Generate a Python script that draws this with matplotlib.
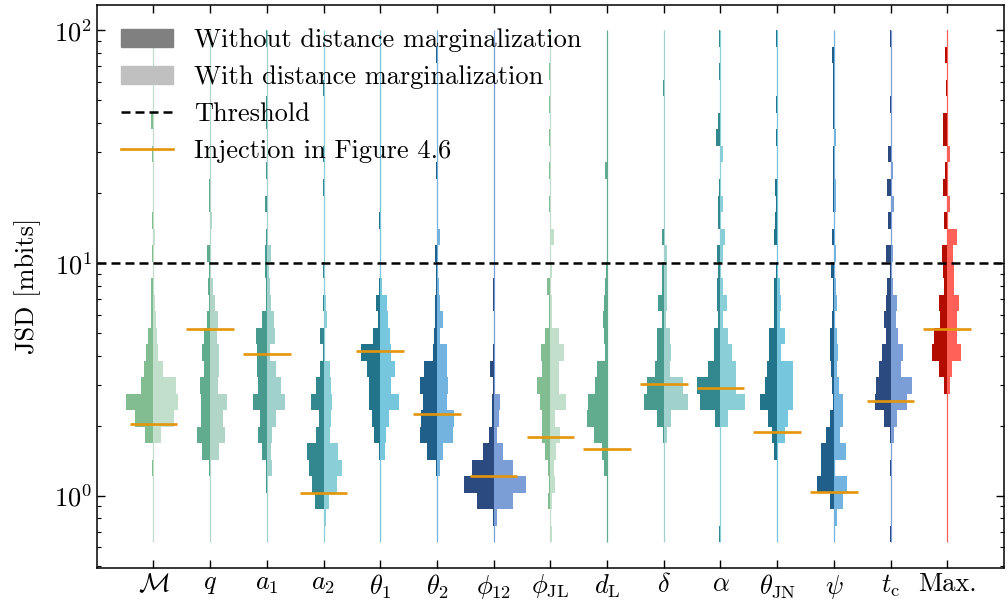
import numpy as np
import matplotlib
matplotlib.use("Agg")
import matplotlib.pyplot as plt
from matplotlib.patches import Patch
from matplotlib.lines import Line2D

plt.rcParams.update({
    "font.family": "serif",
    "font.serif": ["cmr10", "DejaVu Serif"],
    "mathtext.fontset": "cm",
    "axes.formatter.use_mathtext": True,
    "font.size": 19,
    "axes.linewidth": 1.1,
    "xtick.direction": "in",
    "ytick.direction": "in",
    "xtick.top": True,
    "ytick.right": True,
    "xtick.major.size": 5.5,
    "ytick.major.size": 5.5,
    "ytick.minor.size": 3.0,
    "xtick.major.width": 1.0,
    "ytick.major.width": 1.0,
    "ytick.minor.width": 0.8,
})

labels = [r"$\mathcal{M}$", r"$q$", r"$a_1$", r"$a_2$", r"$\theta_1$", r"$\theta_2$",
          r"$\phi_{12}$", r"$\phi_{\rm JL}$", r"$d_{\rm L}$", r"$\delta$", r"$\alpha$",
          r"$\theta_{\rm JN}$", r"$\psi$", r"$t_{\rm c}$", "Max."]

# log-spaced JSD bins (mbits), 31 bins from ~0.63 to 100
bins = np.logspace(-0.2, 2.0, 32)

# injection counts per bin, lowest bin first
mc_without    = [0,0,0,0,1,0,8,17,26,12, 9,7,5,2,2,2,0,1,0,1, 0,0,0,1,0,2,0,0,0,0,0]
mc_with       = [0,0,0,0,0,0,7,19,23,21, 9,4,3,2,1,0,0,0,1,0, 0,0,0,0,0,0,0,0,0,0,0]
q_without     = [0,0,0,0,1,8,12,9,9,10, 6,8,6,3,1,2,1,3,0,0, 1,1,0,0,0,0,0,0,0,0,0]
q_with        = [0,0,0,0,0,8,14,12,16,7, 8,8,6,7,5,3,0,0,1,2, 0,0,0,0,0,0,0,0,0,0,0]
a1_without    = [0,0,0,1,1,5,8,6,13,8, 9,9,10,5,1,1,2,2,1,0, 2,0,1,0,0,1,1,0,0,0,1]
a1_with       = [0,0,0,0,5,4,5,9,17,13, 9,3,8,7,4,3,2,4,1,0, 0,0,0,0,0,0,0,0,0,0,0]
a2_without    = [0,0,8,11,14,16,7,4,12,7, 3,1,3,0,1,0,1,0,0,0, 0,1,0,1,0,0,0,1,0,0,0]
a2_with       = [0,2,5,13,17,14,6,7,8,7, 6,0,0,3,2,0,0,0,0,0, 0,0,0,0,0,0,0,0,0,0,0]
th1_without   = [0,0,0,0,0,1,6,8,11,11, 12,18,7,2,4,1,0,0,0,1, 0,0,0,0,0,0,0,0,0,0,0]
th1_with      = [0,0,0,0,0,4,5,8,18,10, 14,10,9,7,6,2,0,0,0,0, 0,0,0,0,0,0,0,0,0,0,0]
th2_without   = [0,0,0,0,1,9,16,15,13,16, 12,4,3,2,2,1,1,2,0,0, 0,0,1,0,0,0,0,0,0,1,0]
th2_with      = [0,0,0,0,3,6,15,16,9,10, 9,9,3,6,3,2,1,0,3,0, 0,0,0,0,0,0,0,0,0,0,0]
phi12_without = [0,1,16,28,20,10,4,2,2,1, 3,1,0,0,1,1,0,0,0,0, 0,0,0,0,0,0,0,0,0,0,0]
phi12_with    = [0,3,18,30,18,9,3,5,6,0, 0,0,0,0,0,0,0,0,0,0, 0,0,0,0,0,0,0,0,0,0,0]
phijl_without = [0,0,2,1,2,5,8,8,10,13, 8,9,5,1,1,3,0,0,0,0, 1,0,1,0,1,0,1,0,1,0,1]
phijl_with    = [2,0,2,4,3,5,9,4,15,8, 8,13,8,2,2,0,2,0,3,0, 0,0,0,0,0,0,0,0,0,0,0]
dl_without    = [0,0,0,0,3,5,12,19,18,11, 9,2,3,4,3,2,1,0,0,0, 0,0,2,0,0,0,0,0,0,0,0]
dl_with       = [0]*31
delta_without = [0,0,0,0,0,0,1,6,19,16, 8,6,6,2,5,2,2,0,2,0, 0,0,0,0,0,0,0,1,0,0,0]
delta_with    = [0,0,0,0,0,0,3,7,23,18, 6,7,6,2,3,3,3,3,0,0, 0,0,0,0,0,0,0,0,0,0,0]
alpha_without = [1,0,0,0,0,0,0,5,19,22, 12,6,6,2,3,3,2,3,0,2, 2,1,0,0,4,2,0,0,1,0,1]
alpha_with    = [0,0,0,0,0,0,0,7,23,15, 15,11,7,2,6,2,0,2,4,0, 2,0,0,2,0,0,0,0,0,0,0]
thjn_without  = [0,0,0,0,0,3,5,9,16,11, 10,8,8,3,3,3,1,0,3,2, 1,2,0,0,1,0,1,0,0,0,1]
thjn_with     = [0,0,0,0,0,1,7,10,15,15, 15,4,7,3,4,3,1,1,1,0, 0,0,0,0,0,0,0,0,0,0,0]
psi_without   = [0,0,4,16,12,12,7,4,1,2, 3,4,4,2,1,1,3,0,2,0, 1,1,1,1,0,1,1,1,1,2,0]
psi_with      = [0,3,9,12,1,11,6,9,9,5, 3,4,3,1,3,2,0,2,0,0, 2,2,0,0,2,0,0,0,0,0,0]
tc_without    = [1,0,0,0,1,0,1,6,15,14, 11,8,4,6,4,3,1,4,0,2, 0,3,0,2,0,0,1,0,0,0,1]
tc_with       = [0,0,0,0,0,0,3,6,15,20, 10,12,7,5,6,2,1,2,0,0, 3,0,2,0,0,0,0,0,0,0,0]
max_without   = [0,0,0,0,0,0,0,0,0,3, 8,14,12,7,8,3,4,5,0,3, 0,4,2,0,4,4,0,1,0,2,0]
max_with      = [0,0,0,0,0,0,0,0,0,3, 4,13,9,9,11,6,6,5,9,0, 3,1,0,3,0,0,0,0,0,0,1]

# JSD of the injection shown in Figure 4.6
injection = [2.03, 5.18, 4.08, 1.03, 4.17, 2.24, 1.21, 1.79, 1.58, 3.02, 2.89, 1.88, 1.035, 2.55, 5.18]
threshold = 10.0

without = [mc_without, q_without, a1_without, a2_without, th1_without, th2_without,
           phi12_without, phijl_without, dl_without, delta_without, alpha_without,
           thjn_without, psi_without, tc_without, max_without]
with_marg = [mc_with, q_with, a1_with, a2_with, th1_with, th2_with, phi12_with,
             phijl_with, dl_with, delta_with, alpha_with, thjn_with, psi_with,
             tc_with, max_with]

dark = ["#82bd91", "#61ab8f", "#48998e", "#33878f", "#22748b", "#1f5f8a", "#2a4a80"]
light = ["#c1dfcb", "#b1d6c8", "#a1d1cc", "#8acfd7", "#76c6dd", "#72b3df", "#7b9ed6"]
max_dark, max_light = "#b30d00", "#ff6159"
inj_color = "#e4950a"

width_per_count = 0.0188

fig = plt.figure(figsize=(10.08, 6.04), dpi=100)
ax = fig.add_axes([0.096, 0.06, 0.9, 0.932])
ax.set_yscale("log")

lo = bins[:-1]
hi = bins[1:]
for i in range(len(labels)):
    pos = i + 1
    if labels[i] == "Max.":
        cd, cl = max_dark, max_light
    else:
        cd, cl = dark[i % 7], light[i % 7]
    w0 = np.array(without[i]) * width_per_count
    w1 = np.array(with_marg[i]) * width_per_count
    line_c = cl if np.any(w1 > 0) else cd
    ax.vlines(pos, bins[0], bins[-1], color=line_c, lw=0.9, zorder=1)
    ax.barh(lo, w0, height=hi - lo, left=pos - w0, align="edge",
            color=cd, linewidth=0, zorder=2)
    ax.barh(lo, w1, height=hi - lo, left=pos, align="edge",
            color=cl, linewidth=0, zorder=2)
    ax.hlines(injection[i], pos - 0.42, pos + 0.42, color=inj_color, lw=1.9, zorder=4)

ax.axhline(threshold, color="black", lw=1.8, ls=(0, (3.6, 2.0)), zorder=5)

ax.set_xlim(0, 16)
ax.set_ylim(10 ** -0.31, 10 ** 2.11)
ax.set_xticks(np.arange(1, len(labels) + 1))
ax.set_xticklabels(labels)
ax.set_ylabel("JSD [mbits]", labelpad=9)

handles = [
    Patch(color="#808080", label="Without distance marginalization"),
    Patch(color="#c0c0c0", label="With distance marginalization"),
    Line2D([], [], color="black", lw=1.8, ls=(0, (3.6, 2.0)), label="Threshold"),
    Line2D([], [], color=inj_color, lw=1.9, label="Injection in Figure 4.6"),
]
ax.legend(handles=handles, loc="upper left", frameon=False)

fig.savefig("out.png", dpi=100)
